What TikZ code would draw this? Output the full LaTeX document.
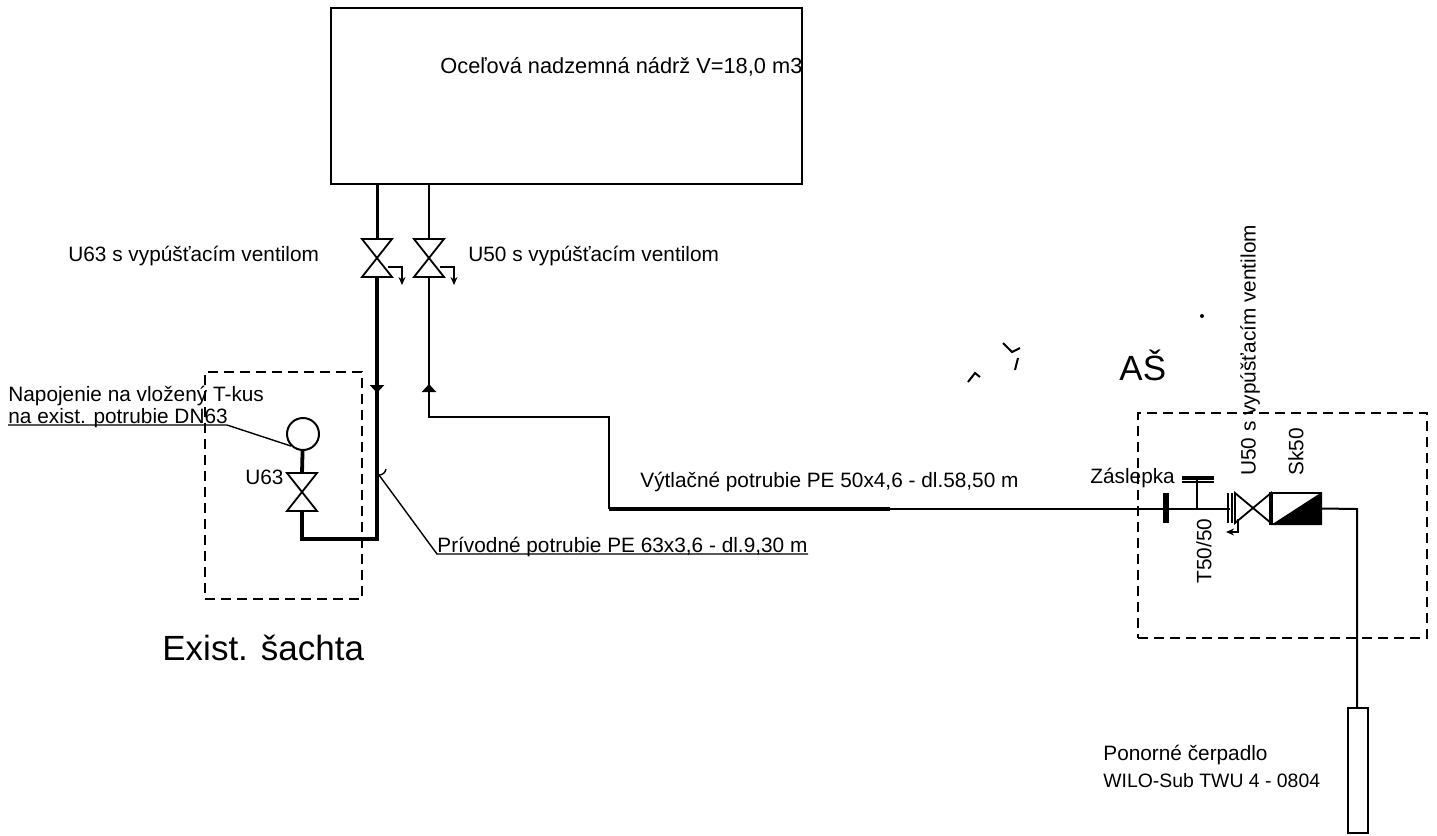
\documentclass[tikz,border=0pt]{standalone}
\usepackage{fontspec}
\setmainfont{Liberation Sans}
\usepackage{tikz}
\usetikzlibrary{positioning, arrows.meta}

\tikzset{
    pipe/.style={line width=1.9pt},
    thinpipe/.style={line width=1pt},
    boxline/.style={line width=1pt, dash pattern=on 5pt off 3pt},
    leader/.style={line width=0.7pt},
    label/.style={inner sep=0pt, anchor=west, font=\fontsize{10.4}{12}\selectfont},
    biglabel/.style={inner sep=0pt, anchor=west, font=\fontsize{17.5}{20}\selectfont},
    vlabel/.style={inner sep=0pt, anchor=west, rotate=90, font=\fontsize{10.4}{12}\selectfont},
    speck/.style={line width=1pt},
    pics/valve/.style={code={
        \draw[line width=0.9pt] (-15,-19) -- (15,-19) -- (-15,19) -- (15,19) -- cycle;
    }},
    pics/valveside/.style={code={
        \draw[line width=0.9pt] (-18,-15) -- (-18,15) -- (18,-15) -- (18,15) -- cycle;
    }},
    drain/.style={line width=0.9pt, -{Stealth[length=4pt,width=3.5pt]}},
}

\begin{document}
\begin{tikzpicture}[x=0.5pt, y=-0.5pt]
    \useasboundingbox (0,0) rectangle (1437,836);

    % tank
    \node[draw, line width=1pt, minimum width=235.5pt, minimum height=88pt, inner sep=0pt] (tank) at (566.5,96) {};
    \node[label, font=\fontsize{10.9}{13}\selectfont] (tanklabel) at (440,67) {Oceľová nadzemná nádrž V=18,0 m3};

    % shafts
    \node[draw, boxline, minimum width=78.5pt, minimum height=113.5pt, inner sep=0pt] (sachta) at (283.5,485.5) {};
    \node[draw, boxline, minimum width=144.5pt, minimum height=112.5pt, inner sep=0pt] (as) at (1282.5,525.5) {};
    \node[biglabel] (sachtalabel) at (162,648) {Exist. šachta};
    \node[biglabel] (aslabel) at (1119,365) {AŠ};

    % supply pipe
    \coordinate (v1) at (377,258);
    \coordinate (v1top) at (377,239);
    \coordinate (v1bot) at (377,277);
    \coordinate (tank1) at (377,184);
    \coordinate (corner1) at (377,539);
    \coordinate (corner2) at (302,539);
    \coordinate (v3) at (302,492);
    \coordinate (v3top) at (302,473);
    \coordinate (v3bot) at (302,511);
    \coordinate (flow1a) at (377,300);
    \coordinate (flow1b) at (377,393);
    \node[draw, circle, line width=1pt, minimum size=16pt, inner sep=0pt] (tpiece) at (303,434) {};
    \draw[line width=1.5pt] (tank1) -- (v1top);
    \draw[pipe] (v1bot) -- (corner1) -- (corner2) -- (v3bot);
    \draw[pipe] (v3top) -- (tpiece);
    \draw[pipe, -{Triangle[length=4pt,width=7pt]}] (flow1a) -- (flow1b);
    \pic at (v1) {valve};
    \pic at (v3) {valve};
    \coordinate (d1a) at (388,267);
    \coordinate (d1b) at (402,267);
    \coordinate (d1c) at (402,285);
    \draw[drain] (d1a) -- (d1b) -- (d1c);

    % discharge pipe
    \coordinate (v2) at (429,258);
    \coordinate (v2top) at (429,239);
    \coordinate (v2bot) at (429,277);
    \coordinate (tank2) at (429,184);
    \coordinate (corner3) at (429,417);
    \coordinate (corner4) at (609,417);
    \coordinate (corner5) at (609,509);
    \coordinate (thick) at (890,509);
    \coordinate (vside) at (1253,508);
    \coordinate (flange) at (1230,509);
    \coordinate (flow2a) at (429,400);
    \coordinate (flow2b) at (429,384);
    \draw[line width=1.2pt] (tank2) -- (v2top);
    \draw[line width=1.2pt] (v2bot) -- (corner3) -- (corner4) -- (corner5);
    \draw[line width=1.2pt, -{Triangle[length=4pt,width=7pt]}] (flow2a) -- (flow2b);
    \draw[pipe] (corner5) -- (thick);
    \draw[thinpipe] (thick) -- (flange);
    \pic at (v2) {valve};
    \coordinate (d2a) at (440,267);
    \coordinate (d2b) at (454,267);
    \coordinate (d2c) at (454,285);
    \draw[drain] (d2a) -- (d2b) -- (d2c);

    % fittings in the right shaft
    \node[fill, minimum width=3pt, minimum height=15pt, inner sep=0pt] (capbar) at (1166,508) {};
    \coordinate (tstem) at (1197,509);
    \coordinate (ttop) at (1197,479);
    \draw[line width=1.3pt] (tstem) -- (ttop);
    \draw[line width=1.6pt] (1182,478) -- (1214,478);
    \draw[line width=0.6pt] (1182,482) -- (1214,482);
    \draw[line width=1pt] (1228,493) -- (1228,523) (1232,493) -- (1232,523);
    \pic at (vside) {valveside};
    \coordinate (d3a) at (1238,519);
    \coordinate (d3b) at (1238,532);
    \coordinate (d3c) at (1226,532);
    \draw[drain] (d3a) -- (d3b) -- (d3c);

    % check valve
    \node[draw, line width=1pt, minimum width=24.5pt, minimum height=15.5pt, inner sep=0pt] (check) at (1296.5,508.5) {};
    \fill (check.south west) -- (check.north east) -- (check.south east) -- cycle;
    \draw[line width=1.6pt] (check.north west) -- (check.south west);

    % pump
    \node[draw, line width=1pt, minimum width=10pt, minimum height=62.5pt, inner sep=0pt] (pump) at (1358,770.5) {};
    \coordinate (corner6) at (1357,509);
    \draw[thinpipe] (check.east) -- (corner6) -- (pump.north -| corner6);

    % leaders
    \coordinate (lead1a) at (8,425);
    \coordinate (lead1b) at (227,425);
    \coordinate (lead2a) at (808,554);
    \coordinate (lead2b) at (437,554);
    \coordinate (lead2c) at (379,475);
    \draw[leader] (lead1a) -- (lead1b) -- (tpiece.south west);
    \draw[leader] (lead2a) -- (lead2b) -- (lead2c);
    \draw[leader] (lead2c) to[bend right=40] (386,469);

    % stray marks
    \draw[speck] (968,382) -- (975,373) -- (980,377);
    \draw[speck] (1003,343) -- (1012,352) -- (1020,348);
    \draw[speck] (1018,358) -- (1015,370);
    \fill (1202,316) circle (1pt);

    % texts
    \node[label] (u63top) at (68,256) {U63 s vypúšťacím ventilom};
    \node[label] (u50top) at (468,256) {U50 s vypúšťacím ventilom};
    \node[label] (napojenie) at (8,396) {Napojenie na vložený T-kus};
    \node[label] (potrubie) at (8,418) {na exist. potrubie DN63};
    \node[label] (u63) at (245,477) {U63};
    \node[label] (privod) at (437,547) {Prívodné potrubie PE 63x3,6 - dl.9,30 m};
    \node[label] (vytlak) at (640,482) {Výtlačné potrubie PE 50x4,6 - dl.58,50 m};
    \node[label] (zaslepka) at (1090,478) {Záslepka};
    \node[vlabel] (t50) at (1204,584) {T50/50};
    \node[vlabel] (u50) at (1250,476) {U50 s vypúšťacím ventilom};
    \node[vlabel] (sk50) at (1296,476) {Sk50};
    \node[label] (ponorne) at (1103,755) {Ponorné čerpadlo};
    \node[label, font=\fontsize{9.7}{12}\selectfont] (wilo) at (1103,781) {WILO-Sub TWU 4 - 0804};
\end{tikzpicture}
\end{document}
